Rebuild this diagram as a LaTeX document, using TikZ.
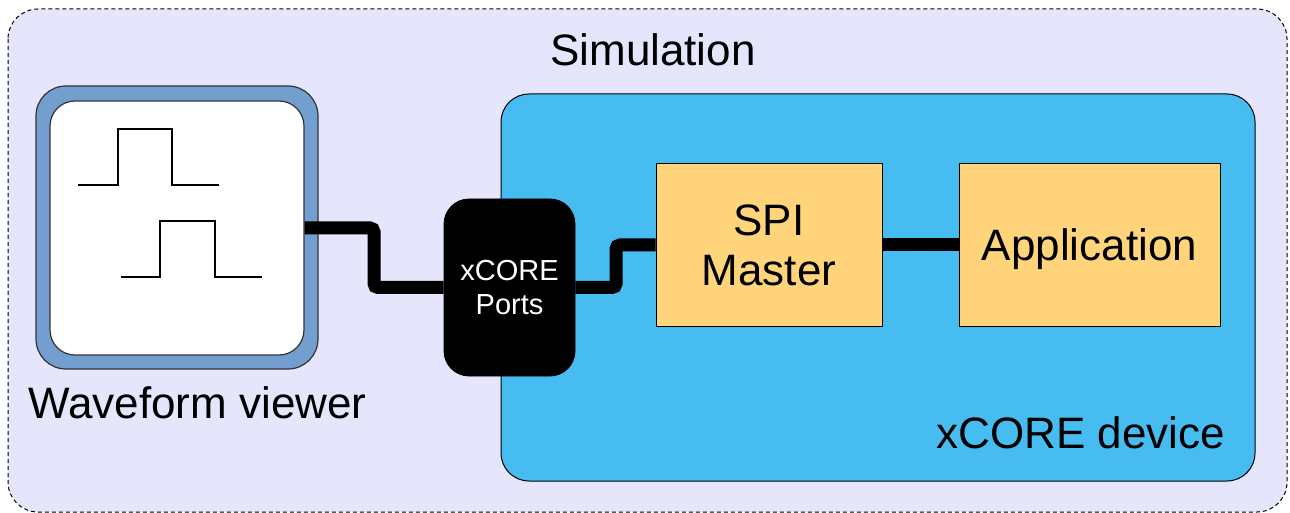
\documentclass[tikz,border=0pt]{standalone}
\usepackage{fontspec}
\setmainfont{Liberation Sans}
\definecolor{simbg}{HTML}{E5E5FC}
\definecolor{devblue}{HTML}{46BCF0}
\definecolor{wvblue}{HTML}{729FCF}
\definecolor{boxorange}{HTML}{FFD47A}
\definecolor{edgegray}{HTML}{333333}
\tikzset{
  big/.style={font=\fontsize{22}{25}\selectfont},
  blk/.style={draw=black, line width=0.5pt, fill=boxorange, minimum width=113pt, minimum height=81pt, inner sep=0pt, big, align=center},
  conn/.style={line width=6.5pt, rounded corners=2pt},
  wave/.style={line width=0.6pt},
}
\begin{document}
\begin{tikzpicture}[x=0.5pt, y=-0.5pt]
\useasboundingbox (0,0) rectangle (1290,513);
% simulation background
\draw[dashed, dash pattern=on 2pt off 1.5pt, line width=0.5pt, fill=simbg, rounded corners=15pt] (8,9) rectangle (1287,512);
\node[big, anchor=base] (sim) at (653,66) {Simulation};
% xCORE device
\node[draw=black, line width=0.5pt, fill=devblue, rounded corners=14pt, minimum width=377pt, minimum height=193.5pt, inner sep=0pt] (dev) at (878,287.5) {};
\node[big, anchor=base] (devlbl) at (1080.5,448) {xCORE device};
% waveform viewer
\node[draw=edgegray, line width=0.6pt, fill=wvblue, rounded corners=15pt, minimum width=141pt, minimum height=141.5pt, inner sep=0pt] (wv) at (177,227.5) {};
\node[draw=edgegray, line width=0.6pt, fill=white, rounded corners=12.5pt, minimum width=127pt, minimum height=127pt, inner sep=0pt] (wvin) at (177,228) {};
\node[big, anchor=base] (wvlbl) at (197.5,418) {Waveform viewer};
\draw[wave] (78,185) -- (118,185) -- (118,129) -- (172,129) -- (172,185) -- (219,185);
\draw[wave] (121,277) -- (160,277) -- (160,221) -- (215,221) -- (215,277) -- (262,277);
% ports
\node[fill=black, draw=black, rounded corners=12.5pt, minimum width=65.5pt, minimum height=88.5pt, inner sep=0pt, text=white, align=center, font=\fontsize{14.5}{17}\selectfont] (ports) at (509.5,287.5) {xCORE\\Ports};
% blocks
\node[blk] (spi) at (769,245) {SPI\\Master};
\node[blk, minimum width=130.5pt, text depth=0pt] (app) at (1089.5,245) {Application};
% connectors
\draw[conn] (wvin.east) -| (374,287.5) -- (ports.west);
\draw[conn] (ports.east) -| (616,245) -- (spi.west);
\draw[conn] (spi.east) -- (app.west);
\end{tikzpicture}
\end{document}
